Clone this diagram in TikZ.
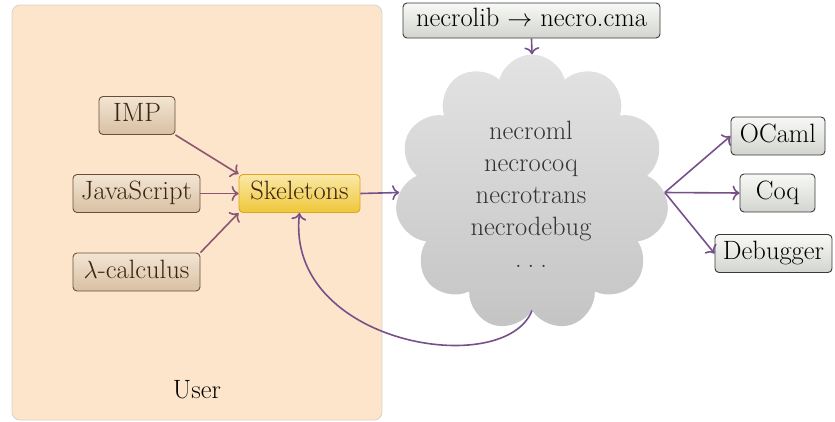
\documentclass[tikz,border=0pt]{standalone}
\usetikzlibrary{shapes.symbols,arrows.meta}
\definecolor{userfill}{HTML}{FDE5CB}
\definecolor{userdraw}{HTML}{D9D2CC}
\definecolor{brtop}{HTML}{F3E5D3}
\definecolor{brbot}{HTML}{D8C0A2}
\definecolor{brdraw}{HTML}{6B4E3A}
\definecolor{brtext}{HTML}{3B2412}
\definecolor{gdtop}{HTML}{FAE8A6}
\definecolor{gdbot}{HTML}{F0C73A}
\definecolor{gddraw}{HTML}{DDA526}
\definecolor{gytop}{HTML}{F8F9F6}
\definecolor{gybot}{HTML}{D2D5CF}
\definecolor{gydraw}{HTML}{3A3A3A}
\definecolor{cltop}{HTML}{E3E3E3}
\definecolor{clbot}{HTML}{C4C4C4}
\definecolor{cltext}{HTML}{333333}
\definecolor{arrl}{HTML}{8A5670}
\definecolor{arrr}{HTML}{76508A}
\begin{document}
\begin{tikzpicture}[x=1pt,y=-1pt,
  font=\fontsize{26.5}{32}\selectfont,
  box/.style={rounded corners=4pt, minimum height=38pt, inner sep=0pt,
    text height=18pt, text depth=6pt, line width=0.9pt},
  srcbox/.style={box, draw=brdraw, top color=brtop, bottom color=brbot, text=brtext},
  skelbox/.style={box, draw=gddraw, top color=gdtop, bottom color=gdbot, text=brtext},
  outbox/.style={box, draw=gydraw, top color=gytop, bottom color=gybot, text=black},
  tip/.style={-{To[length=7pt,width=15pt]}},
  larr/.style={tip, draw=arrl, line width=1.6pt},
  rarr/.style={tip, draw=arrr, line width=1.6pt}]
\useasboundingbox (0,0) rectangle (835,421);
\node[draw=userdraw, fill=userfill, rounded corners=8pt, line width=0.8pt,
  minimum width=370pt, minimum height=415pt, inner sep=0pt] (user) at (197,212.5) {};
\node[text=black] (userlbl) at (197,390) {User};

\node[srcbox, minimum width=76pt] (imp) at (137,115.5) {IMP};
\node[srcbox, minimum width=127pt] (js) at (136.5,193.5) {JavaScript};
\node[srcbox, minimum width=127pt] (lam) at (136.5,272) {$\lambda$-calculus};
\node[skelbox, minimum width=121pt] (skel) at (299.5,193.5) {Skeletons};

\node[cloud, cloud puffs=11, aspect=1, minimum width=274pt, minimum height=276pt,
  top color=cltop, bottom color=clbot, inner sep=0pt] (cloud) at (532,192.5) {};
\node[align=center, text=cltext] (ctext) at (531,194)
  {necroml\\necrocoq\\necrotrans\\necrodebug\\.\hspace{6pt}.\hspace{6pt}.};

\node[outbox, minimum width=257pt, minimum height=35pt] (lib) at (531.5,20.5) {necrolib $\rightarrow$ necro.cma};
\node[outbox, minimum width=94pt] (ocaml) at (778,136) {OCaml};
\node[outbox, minimum width=75pt] (coq) at (777.5,193) {Coq};
\node[outbox, minimum width=117pt] (dbg) at (773.5,253.5) {Debugger};

\draw[larr] (imp.south east) -- (skel.north west);
\draw[larr] (js.east) -- (skel.west);
\draw[larr] (lam.north east) -- (skel.south west);
\draw[rarr] (skel.east) -- (cloud.west);
\draw[rarr] (lib.south) -- (cloud.north);
\draw[rarr] (cloud.east) -- (ocaml.west);
\draw[rarr] (cloud.east) -- (coq.west);
\draw[rarr] (cloud.east) -- (dbg.west);
\draw[rarr] (cloud.south) .. controls (505,380) and (285,345) .. (skel.south);
\end{tikzpicture}
\end{document}
